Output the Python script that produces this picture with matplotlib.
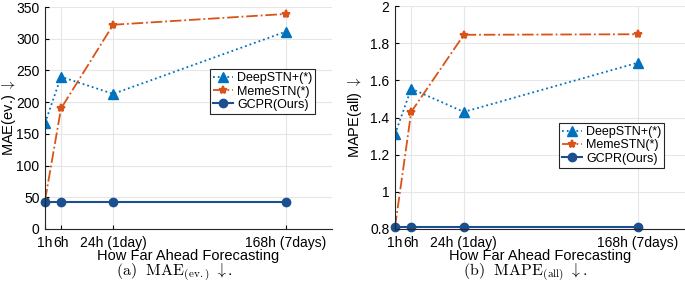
import numpy as np
import matplotlib
matplotlib.use('Agg')
import matplotlib.pyplot as plt

plt.rcParams['font.family'] = ['Liberation Sans', 'DejaVu Sans']
plt.rcParams['mathtext.fontset'] = 'cm'

# x positions of the forecast horizons (as drawn, not linear in hours)
xpos = [1, 2, 5.25, 16]
xlabels = ['1h', '6h', '24h (1day)', '168h (7days)']
names = ['DeepSTN+(*)', 'MemeSTN(*)', 'GCPR(Ours)']

mae_deepstn = [167, 240, 213, 311]
mae_meme = [45, 190, 322, 339]
mae_gcpr = [43, 43, 43, 43]

mape_deepstn = [1.31, 1.555, 1.43, 1.695]
mape_meme = [0.81, 1.43, 1.845, 1.848]
mape_gcpr = [0.81, 0.81, 0.81, 0.81]

c_deep = '#0072BD'
c_meme = '#D95319'
c_gcpr = '#1B4F8F'

W, H = 685.0, 284.0
fig = plt.figure(figsize=(6.85, 2.84), dpi=100)
ax1 = fig.add_axes([45 / W, 1 - 229 / H, 287 / W, 222 / H])
ax2 = fig.add_axes([395 / W, 1 - 229 / H, 290 / W, 223 / H])

def draw(ax, deep, meme, gcpr, ylim, yticks, ylabel, caption, capx, leg_anchor):
    ax.plot(xpos, deep, ':', color=c_deep, marker='^', markersize=6.5, linewidth=1.3, label=names[0])
    ax.plot(xpos, meme, '-.', color=c_meme, marker='*', markersize=6, markeredgewidth=1.5, linewidth=1.3, label=names[1])
    ax.plot(xpos, gcpr, '-', color=c_gcpr, marker='o', markersize=6, linewidth=1.5, label=names[2], clip_on=False)
    ax.set_xlim(1, 18.9)
    ax.set_ylim(*ylim)
    ax.set_xticks(xpos)
    ax.set_xticklabels(xlabels)
    ax.set_yticks(yticks)
    ax.tick_params(direction='in', labelsize=10, length=3)
    ax.tick_params(axis='x', pad=5)
    ax.tick_params(axis='y', pad=4)
    ax.grid(True, color='#E6E6E6', linewidth=0.8)
    ax.set_axisbelow(True)
    for s in ['top', 'right']:
        ax.spines[s].set_visible(False)
    for s in ['left', 'bottom']:
        ax.spines[s].set_color('#262626')
    ax.set_ylabel(ylabel, fontsize=10.5, va='center')
    ax.set_xlabel('How Far Ahead Forecasting', fontsize=10.5)
    ax.xaxis.label.set_va('center')
    ax.xaxis.set_label_coords(0.5, -27 / 222)
    fig.text(capx / W, 1 - 273 / H, caption, ha='center', va='center', fontsize=11.5)
    leg = ax.legend(loc='upper left', bbox_to_anchor=leg_anchor, fontsize=9, frameon=True,
                    fancybox=False, edgecolor='#262626', framealpha=1, handlelength=1.6,
                    borderpad=0.25, labelspacing=0.1, handletextpad=0.3, borderaxespad=0)
    leg.get_frame().set_linewidth(0.8)

draw(ax1, mae_deepstn, mae_meme, mae_gcpr, (0, 350), np.arange(0, 351, 50),
     r'MAE(ev.) $\downarrow$', r'$\mathrm{(a)\ \ MAE_{(ev.)}}\ \downarrow.$', 174, (0.575, 0.72))
draw(ax2, mape_deepstn, mape_meme, mape_gcpr, (0.8, 2.0), [0.8, 1.0, 1.2, 1.4, 1.6, 1.8, 2.0],
     r'MAPE(all) $\downarrow$', r'$\mathrm{(b)\ \ MAPE_{(all)}}\ \downarrow.$', 525, (0.566, 0.475))
ax2.set_yticklabels(['0.8', '1', '1.2', '1.4', '1.6', '1.8', '2'])
ax1.yaxis.set_label_coords(-36 / 287, 0.5)
ax2.yaxis.set_label_coords(-40 / 290, 0.5)

plt.savefig('out.png', dpi=100)
